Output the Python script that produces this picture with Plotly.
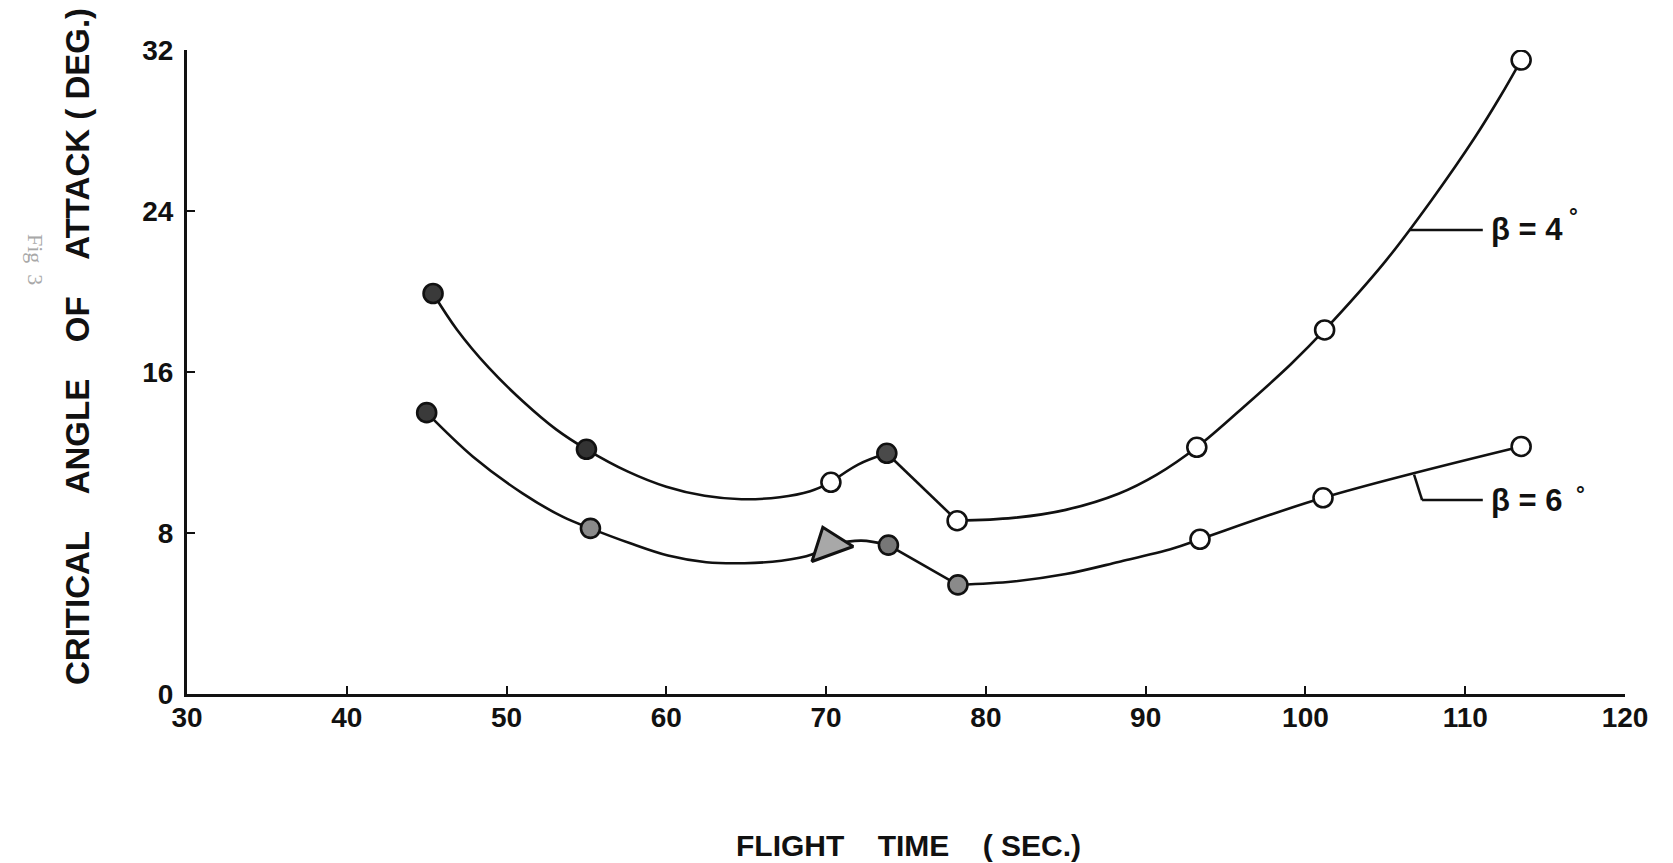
import plotly.graph_objects as go

# ---------------- data ----------------
x_ticks = [30, 40, 50, 60, 70, 80, 90, 100, 110, 120]
y_ticks = [0, 8, 16, 24, 32]

# beta = 4 deg : plotted points
b4_time = [45.4, 55.0, 70.3, 73.8, 78.2, 93.2, 101.2, 113.5]
b4_alpha = [19.9, 12.16, 10.52, 11.96, 8.61, 12.26, 18.09, 31.5]
# beta = 4 deg : faired curve
b4_curve_time = [45.4, 46.9, 48.9, 51.0, 53.1, 55.0, 57.6, 60.0, 62.4, 64.7, 67.1, 69.0, 70.3,
                 72.0, 73.8, 78.2, 81.7, 85.0, 88.3, 90.7, 93.2, 96.4, 99.1, 101.2,
                 105.0, 107.9, 110.6, 112.2, 113.5]
b4_curve_alpha = [19.9, 18.1, 16.2, 14.56, 13.15, 12.16, 11.05, 10.3, 9.85, 9.68, 9.78, 10.08, 10.52,
                  11.4, 11.96, 8.61, 8.75, 9.15, 9.95, 10.9, 12.26, 14.45, 16.4, 18.09,
                  21.5, 24.55, 27.65, 29.7, 31.5]
b4_corners = [70.3, 73.8, 78.2]

# beta = 6 deg : plotted points
b6_time = [45.0, 55.25, 73.9, 78.25, 93.4, 101.1, 113.5]
b6_alpha = [13.98, 8.23, 7.40, 5.42, 7.69, 9.75, 12.3]
b6_triangle_time = [70.2]
b6_triangle_alpha = [7.40]
# beta = 6 deg : faired curve
b6_curve_time = [45.0, 47.9, 51.0, 53.5, 55.25, 57.7, 60.1, 62.5, 64.9, 67.2, 69.1, 70.2,
                 72.2, 73.9, 78.25, 81.7, 85.0, 88.3, 91.7, 93.4, 101.1, 113.5]
b6_curve_alpha = [13.98, 11.79, 9.97, 8.81, 8.23, 7.5, 6.88, 6.55, 6.5, 6.62, 6.93, 7.40,
                  7.62, 7.40, 5.42, 5.59, 5.96, 6.56, 7.23, 7.69, 9.75, 12.3]
b6_corners = [70.2, 73.9, 78.25]

# ---------------- styles ----------------
b4_fill = ["#3a3a3a", "#333333", "white", "#4a4a4a", "white", "white", "white", "white"]
b6_fill = ["#3a3a3a", "#8a8a8a", "#777777", "#8a8a8a", "white", "white", "white"]
INK = "#111111"
FONT = "Liberation Sans, Arial, sans-serif"


def split_segments(xs, ys, corners):
    segs, cur_x, cur_y = [], [], []
    for x, y in zip(xs, ys):
        cur_x.append(x)
        cur_y.append(y)
        if x in corners and len(cur_x) > 1:
            segs.append((cur_x, cur_y))
            cur_x, cur_y = [x], [y]
    if len(cur_x) > 1:
        segs.append((cur_x, cur_y))
    return segs


fig = go.Figure()

for cx, cy, corners in [(b4_curve_time, b4_curve_alpha, b4_corners),
                        (b6_curve_time, b6_curve_alpha, b6_corners)]:
    for sx, sy in split_segments(cx, cy, corners):
        fig.add_trace(go.Scatter(
            x=sx, y=sy, mode="lines",
            line=dict(color=INK, width=2.6,
                      shape="spline" if len(sx) > 2 else "linear", smoothing=1.0),
            hoverinfo="skip", showlegend=False))

fig.add_trace(go.Scatter(
    x=b4_time, y=b4_alpha, mode="markers", name="β = 4°",
    marker=dict(size=19, color=b4_fill, line=dict(color=INK, width=2.6)),
    showlegend=False))
fig.add_trace(go.Scatter(
    x=b6_time, y=b6_alpha, mode="markers", name="β = 6°",
    marker=dict(size=19, color=b6_fill, line=dict(color=INK, width=2.6)),
    showlegend=False))
fig.add_trace(go.Scatter(
    x=b6_triangle_time, y=b6_triangle_alpha, mode="markers", name="β = 6° (triangle)",
    marker=dict(size=38, symbol="triangle-up", angle=-20, color="#a8a8a8",
                line=dict(color=INK, width=3)),
    showlegend=False))

# plot area in pixels: x 187..1625, y 50..694
W, H = 1673, 863
L, R, T, B = 187, W - 1625, 50, H - 694

axis_common = dict(
    showgrid=False, zeroline=False, showline=True, linecolor=INK, linewidth=3,
    ticks="inside", ticklen=8, tickwidth=2, tickcolor=INK,
    tickfont=dict(family=FONT, size=28, color=INK, weight="bold"),
)

fig.update_layout(
    width=W, height=H,
    margin=dict(l=L, r=R, t=T, b=B, pad=0),
    paper_bgcolor="white", plot_bgcolor="white",
    xaxis=dict(range=[30, 120], tickvals=x_ticks, ticktext=[str(v) for v in x_ticks],
               ticklabelstandoff=-4, **axis_common),
    yaxis=dict(range=[0, 32], tickvals=y_ticks, ticktext=[str(v) for v in y_ticks],
               ticklabelstandoff=5, **axis_common),
    showlegend=False,
)

NB = "\u00a0"


def px_to_paper(px, py):
    return (px - L) / (1625 - L), (694 - py) / (694 - 50)


ytx, yty = px_to_paper(78, 347)
xtx, xty = px_to_paper(908, 845)
fgx, fgy = px_to_paper(21, 232)

fig.add_annotation(
    text=f"CRITICAL{NB*4}ANGLE{NB*4}OF{NB*4}ATTACK{NB}({NB}DEG.)",
    xref="paper", yref="paper", x=ytx, y=yty, textangle=-90, showarrow=False,
    xanchor="center", yanchor="middle",
    font=dict(family=FONT, size=33, color=INK, weight="bold"))
fig.add_annotation(
    text=f"FLIGHT{NB*4}TIME{NB*4}({NB}SEC.)",
    xref="paper", yref="paper", x=xtx, y=xty, showarrow=False,
    xanchor="center", yanchor="middle",
    font=dict(family=FONT, size=30, color=INK, weight="bold"))
fig.add_annotation(
    text=f"Fig{NB*2}3", xref="paper", yref="paper", x=fgx, y=fgy, textangle=90,
    showarrow=False, font=dict(family="Liberation Serif, serif", size=22, color="#a8a8a8"))

# curve labels with leader lines
fig.add_annotation(text=f"β{NB}={NB}4", x=111.5, y=23.06, xref="x", yref="y",
                   xanchor="left", yanchor="middle", showarrow=False,
                   font=dict(family=FONT, size=31, color=INK, weight="bold"))
fig.add_annotation(text="°", x=116.4, y=23.75, xref="x", yref="y",
                   xanchor="left", yanchor="middle", showarrow=False,
                   font=dict(family=FONT, size=22, color=INK, weight="bold"))
fig.add_annotation(text=f"β{NB}={NB}6", x=111.5, y=9.64, xref="x", yref="y",
                   xanchor="left", yanchor="middle", showarrow=False,
                   font=dict(family=FONT, size=31, color=INK, weight="bold"))
fig.add_annotation(text="°", x=116.8, y=9.9, xref="x", yref="y",
                   xanchor="left", yanchor="middle", showarrow=False,
                   font=dict(family=FONT, size=22, color=INK, weight="bold"))

fig.add_shape(type="line", x0=106.5, y0=23.06, x1=111.1, y1=23.06,
              line=dict(color=INK, width=2.5))
fig.add_shape(type="line", x0=106.8, y0=10.9, x1=107.3, y1=9.64,
              line=dict(color=INK, width=2.5))
fig.add_shape(type="line", x0=107.3, y0=9.64, x1=111.1, y1=9.64,
              line=dict(color=INK, width=2.5))

fig.write_html("out.html")
